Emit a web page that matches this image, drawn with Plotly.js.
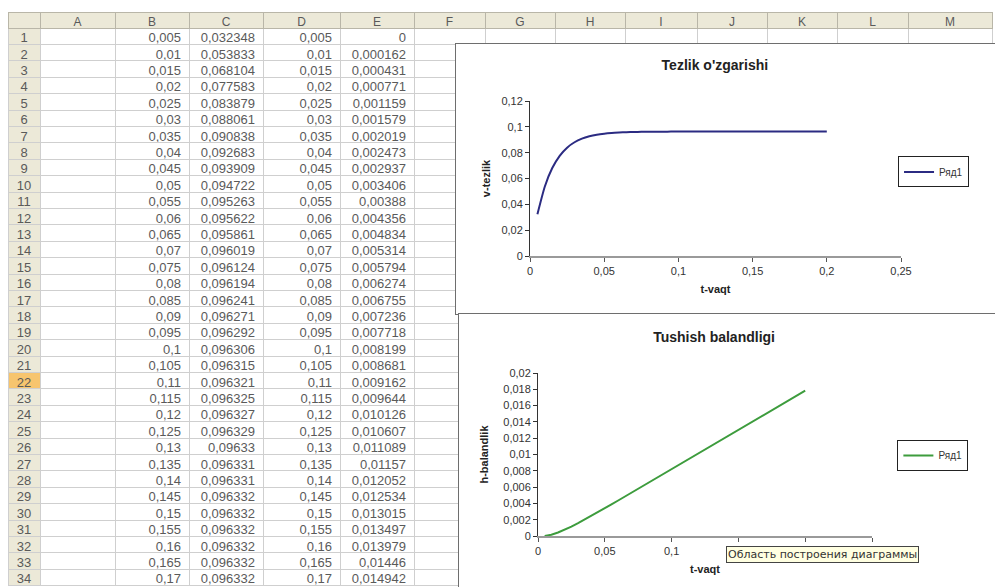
<!DOCTYPE html>
<html>
<head>
<meta charset="utf-8">
<script src="https://cdn.plot.ly/plotly-3.0.1.min.js"></script>
<style>
html,body{margin:0;padding:0;width:995px;height:587px;overflow:hidden;background:#fff;}
#sheet{position:absolute;left:0;top:0;width:995px;height:587px;}
#sheet text.cell-text{transform:translateY(-3.5px);}
#chart1{position:absolute;left:455px;top:43px;width:545px;height:270px;border:1px solid #6e6e6e;background:#fff;}
#chart2{position:absolute;left:458px;top:313px;width:545px;height:280px;border:1px solid #6e6e6e;background:#fff;}
</style>
</head>
<body>
<div id="sheet"></div>
<div id="chart1"></div>
<div id="chart2"></div>
<script>
// ---- data ----
var colLetters = ['A','B','C','D','E','F','G','H','I','J','K','L','M'];
var rowNumbers = [1,2,3,4,5,6,7,8,9,10,11,12,13,14,15,16,17,18,19,20,21,22,23,24,25,26,27,28,29,30,31,32,33,34];
var tVaqt = [0.005,0.01,0.015,0.02,0.025,0.03,0.035,0.04,0.045,0.05,0.055,0.06,0.065,0.07,0.075,0.08,0.085,0.09,0.095,0.1,0.105,0.11,0.115,0.12,0.125,0.13,0.135,0.14,0.145,0.15,0.155,0.16,0.165,0.17,0.175,0.18,0.185,0.19,0.195,0.2];
var vTezlik = [0.032348,0.053833,0.068104,0.077583,0.083879,0.088061,0.090838,0.092683,0.093909,0.094722,0.095263,0.095622,0.095861,0.096019,0.096124,0.096194,0.096241,0.096271,0.096292,0.096306,0.096315,0.096321,0.096325,0.096327,0.096329,0.09633,0.096331,0.096331,0.096332,0.096332,0.096332,0.096332,0.096332,0.096332,0.096332,0.096332,0.096332,0.096332,0.096332,0.096332];
var hBalandlik = [0,0.000162,0.000431,0.000771,0.001159,0.001579,0.002019,0.002473,0.002937,0.003406,0.00388,0.004356,0.004834,0.005314,0.005794,0.006274,0.006755,0.007236,0.007718,0.008199,0.008681,0.009162,0.009644,0.010126,0.010607,0.011089,0.01157,0.012052,0.012534,0.013015,0.013497,0.013979,0.01446,0.014942,0.015424,0.015906,0.016387,0.016869,0.017351,0.017832];
var xTickVals = [0, 0.05, 0.1, 0.15, 0.2, 0.25];
var xTickText1 = ['0', '0,05', '0,1', '0,15', '0,2', '0,25'];
var xTickText2 = ['0', '0,05', '0,1', '', '', ''];   // last three are hidden behind the tooltip
var selectedRow = 22;
var legendName = 'Ряд1';
var tooltipText = 'Область построения диаграммы';

// ---- spreadsheet ----
var nRows = rowNumbers.length;
function fmt(x){ return String(x).replace('.', ','); }
var emptyCol = rowNumbers.map(function(){ return ''; });
var cellValues = [rowNumbers.map(String), emptyCol,
  tVaqt.slice(0,nRows).map(fmt), vTezlik.slice(0,nRows).map(fmt),
  tVaqt.slice(0,nRows).map(fmt), hBalandlik.slice(0,nRows).map(fmt)];
for (var k = 5; k < colLetters.length; k++) cellValues.push(emptyCol);

var hdrFill = '#ece9d8';
var fills = cellValues.map(function(col, ci){
  return rowNumbers.map(function(r){
    if (ci === 0) return r === selectedRow ? '#f7c56e' : hdrFill;
    return '#ffffff';
  });
});
var aligns = cellValues.map(function(col, ci){ return ci === 0 ? 'center' : 'right'; });

Plotly.newPlot('sheet', [{
  type: 'table',
  columnwidth: [32,75,74,74,77,74,71,70,70,72,70,70,71,84],
  header: {
    values: [''].concat(colLetters),
    align: 'center',
    height: 16,
    fill: {color: hdrFill},
    line: {color: '#b9b6a8', width: 1},
    font: {family: 'Liberation Sans, Arial, sans-serif', size: 12, color: '#5a5a5a'}
  },
  cells: {
    values: cellValues,
    align: aligns,
    height: 16.4,
    fill: {color: fills},
    line: {color: '#cfcfcf', width: 1},
    font: {family: 'Liberation Sans, Arial, sans-serif', size: 13, color: '#5a5a5a'}
  },
  domain: {x: [0, 1], y: [0, 1]}
}], {
  width: 995, height: 587,
  margin: {l: 8, r: 3, t: 12, b: 0},
  paper_bgcolor: '#ffffff'
}, {staticPlot: true, displayModeBar: false});

// ---- charts ----
var fontFam = 'Liberation Sans, Arial, sans-serif';
function axisX(ticktext){
  return {
    range: [0, 0.25], tickmode: 'array', tickvals: xTickVals, ticktext: ticktext,
    ticks: 'outside', ticklen: 4, tickcolor: '#555',
    showline: true, linecolor: '#9a9a9a', linewidth: 2,
    showgrid: false, zeroline: false,
    tickfont: {family: fontFam, size: 11, color: '#333'},
    title: {text: 't-vaqt', standoff: 9, font: {family: fontFam, size: 11, color: '#222', weight: 'bold'}}
  };
}

Plotly.newPlot('chart1', [{
  type: 'scatter', mode: 'lines',
  x: tVaqt, y: vTezlik, name: legendName,
  line: {color: '#2b2b82', width: 2, shape: 'spline', smoothing: 0.6},
  showlegend: true
}], {
  width: 545, height: 270,
  margin: {l: 74, r: 100, t: 57, b: 58},
  separators: ', ',
  paper_bgcolor: '#ffffff', plot_bgcolor: '#ffffff',
  title: {text: "Tezlik o'zgarishi", x: 0.475, xanchor: 'center', y: 0.922, yanchor: 'middle',
          font: {family: fontFam, size: 14, color: '#222', weight: 'bold'}},
  xaxis: axisX(xTickText1),
  yaxis: {
    range: [0, 0.12], dtick: 0.02, tick0: 0,
    ticks: 'outside', ticklen: 4, tickcolor: '#333',
    showline: true, linecolor: '#333', linewidth: 1,
    showgrid: false, zeroline: false,
    tickfont: {family: fontFam, size: 11, color: '#333'},
    title: {text: 'v-tezlik', standoff: 8, font: {family: fontFam, size: 11, color: '#222', weight: 'bold'}}
  },
  showlegend: true,
  legend: {x: 0.992, xanchor: 'left', y: 0.542, yanchor: 'middle',
           bordercolor: '#222', borderwidth: 1, bgcolor: '#fff',
           font: {family: fontFam, size: 10, color: '#333'}}
}, {staticPlot: true, displayModeBar: false});

Plotly.newPlot('chart2', [{
  type: 'scatter', mode: 'lines',
  x: tVaqt, y: hBalandlik, name: legendName,
  line: {color: '#3d9c3d', width: 2},
  showlegend: true
}], {
  width: 545, height: 280,
  margin: {l: 79, r: 132, t: 59, b: 58},
  separators: ', ',
  paper_bgcolor: '#ffffff', plot_bgcolor: '#ffffff',
  title: {text: 'Tushish balandligi', x: 0.468, xanchor: 'center', y: 0.918, yanchor: 'middle',
          font: {family: fontFam, size: 14, color: '#222', weight: 'bold'}},
  xaxis: axisX(xTickText2),
  yaxis: {
    range: [0, 0.02], dtick: 0.002, tick0: 0,
    ticks: 'outside', ticklen: 4, tickcolor: '#333',
    showline: true, linecolor: '#333', linewidth: 1,
    showgrid: false, zeroline: false,
    tickfont: {family: fontFam, size: 11, color: '#333'},
    title: {text: 'h-balandlik', standoff: 12, font: {family: fontFam, size: 11, color: '#222', weight: 'bold'}}
  },
  showlegend: true,
  legend: {x: 1.076, xanchor: 'left', y: 0.494, yanchor: 'middle',
           bordercolor: '#222', borderwidth: 1, bgcolor: '#fff',
           font: {family: fontFam, size: 10, color: '#333'}},
  annotations: [{
    text: tooltipText, xref: 'paper', yref: 'paper', x: 0.852, y: -0.113,
    xanchor: 'center', yanchor: 'middle', showarrow: false,
    bgcolor: '#ffffe1', bordercolor: '#444', borderwidth: 1, borderpad: 1,
    font: {family: 'DejaVu Sans, sans-serif', size: 11, color: '#333'}
  }]
}, {staticPlot: true, displayModeBar: false});
</script>
</body>
</html>
